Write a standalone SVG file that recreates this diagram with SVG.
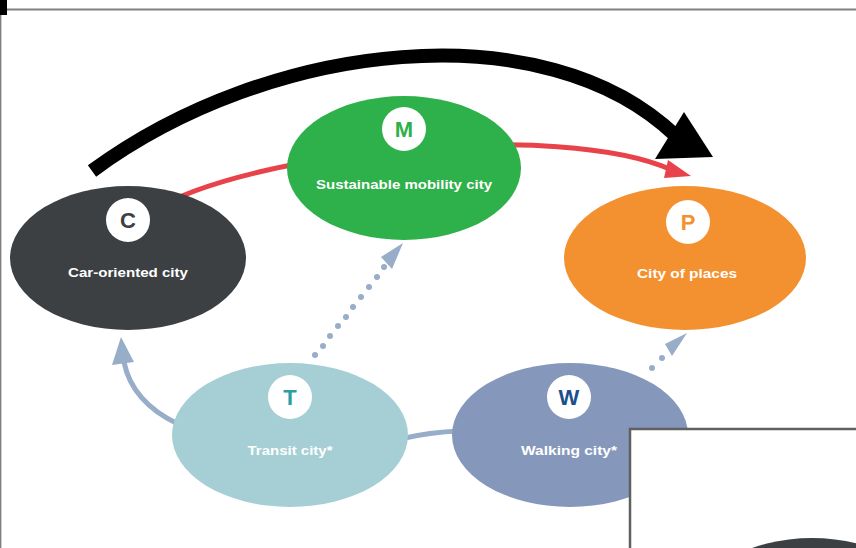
<svg xmlns="http://www.w3.org/2000/svg" width="856" height="548" viewBox="0 0 856 548">
<style>
.lbl{font-family:"Liberation Sans",Arial,sans-serif;font-weight:bold;font-size:13.5px;fill:#ffffff;text-anchor:middle}
.ltr{font-family:"Liberation Sans",Arial,sans-serif;font-weight:bold;font-size:22px;text-anchor:middle}
.conn{fill:none;stroke:#97adc8;stroke-width:5}
.dot{fill:#97adc8}
</style>
<defs>
<clipPath id="boxclip"><rect x="631" y="430" width="226" height="119"/></clipPath>
</defs>
<rect width="856" height="548" fill="#ffffff"/>
<line x1="6" y1="9.5" x2="856" y2="9.5" stroke="#808080" stroke-width="2"/>
<line x1="0.7" y1="9" x2="0.7" y2="548" stroke="#808080" stroke-width="1.4"/>
<rect x="0" y="0" width="7" height="15" fill="#000000"/>

<g id="connectors">
  <path d="M 150 212 C 250 150, 560 120, 672 170" fill="none" stroke="#e8434a" stroke-width="5"/>
  <polygon points="691,176 668,160 664,178" fill="#e8434a"/>
  <path d="M 92 171 C 270 40, 545 10, 676 136" fill="none" stroke="#000000" stroke-width="14"/>
  <polygon points="713,157 684,112 655,159" fill="#000000"/>
  <path class="conn" d="M 178 424 Q 132 402 124 362"/>
  <polygon points="121,337 112,365 134,362" fill="#97adc8"/>
  <path class="conn" d="M 400 439 Q 430 432 460 431"/>
  <g class="dot">
    <circle cx="315" cy="355" r="3"/><circle cx="323" cy="346" r="3"/><circle cx="330" cy="336" r="3"/>
    <circle cx="338" cy="326" r="3"/><circle cx="346" cy="317" r="3"/><circle cx="353" cy="307" r="3"/>
    <circle cx="361" cy="297" r="3"/><circle cx="369" cy="287" r="3"/><circle cx="377" cy="277" r="3"/>
    <circle cx="384" cy="267" r="3"/>
    <circle cx="652" cy="368" r="3"/><circle cx="662" cy="358" r="3"/>
  </g>
  <polygon points="403,243 381,257 392,269" fill="#97adc8"/>
  <polygon points="687,333 665,344 672,356" fill="#97adc8"/>
</g>

<g id="node-C">
  <ellipse cx="128" cy="258" rx="118" ry="72" fill="#3d4043"/>
  <circle cx="128" cy="220" r="22" fill="#ffffff"/>
  <text class="ltr" x="128" y="228" fill="#3d4043">C</text>
  <text class="lbl" x="128" y="277" textLength="120" lengthAdjust="spacingAndGlyphs">Car-oriented city</text>
</g>
<g id="node-M">
  <ellipse cx="404" cy="168" rx="117" ry="72" fill="#2eb04b"/>
  <circle cx="404" cy="129" r="22" fill="#ffffff"/>
  <text class="ltr" x="404" y="137" fill="#2eb04b">M</text>
  <text class="lbl" x="404" y="189" textLength="176" lengthAdjust="spacingAndGlyphs">Sustainable mobility city</text>
</g>
<g id="node-P">
  <ellipse cx="685" cy="258" rx="121" ry="72" fill="#f39130"/>
  <circle cx="688" cy="222" r="22" fill="#ffffff"/>
  <text class="ltr" x="688" y="230" fill="#f39130">P</text>
  <text class="lbl" x="687" y="278" textLength="100" lengthAdjust="spacingAndGlyphs">City of places</text>
</g>
<g id="node-T">
  <ellipse cx="290" cy="435" rx="118" ry="72" fill="#a5cfd5"/>
  <circle cx="290" cy="397" r="22" fill="#ffffff"/>
  <text class="ltr" x="290" y="405" fill="#2a9fa2">T</text>
  <text class="lbl" x="290" y="455" textLength="85" lengthAdjust="spacingAndGlyphs">Transit city*</text>
</g>
<g id="node-W">
  <ellipse cx="570" cy="435" rx="118" ry="72" fill="#8598bb"/>
  <circle cx="569" cy="397" r="22" fill="#ffffff"/>
  <text class="ltr" x="569" y="405" fill="#1c4f8c">W</text>
  <text class="lbl" x="569" y="455" textLength="96" lengthAdjust="spacingAndGlyphs">Walking city*</text>
</g>

<g id="overlay">
  <rect x="630" y="429" width="240" height="130" fill="#ffffff" stroke="#606060" stroke-width="2.5"/>
  <ellipse cx="812" cy="610" rx="118" ry="72" fill="#3d4043" clip-path="url(#boxclip)"/>
</g>
</svg>
